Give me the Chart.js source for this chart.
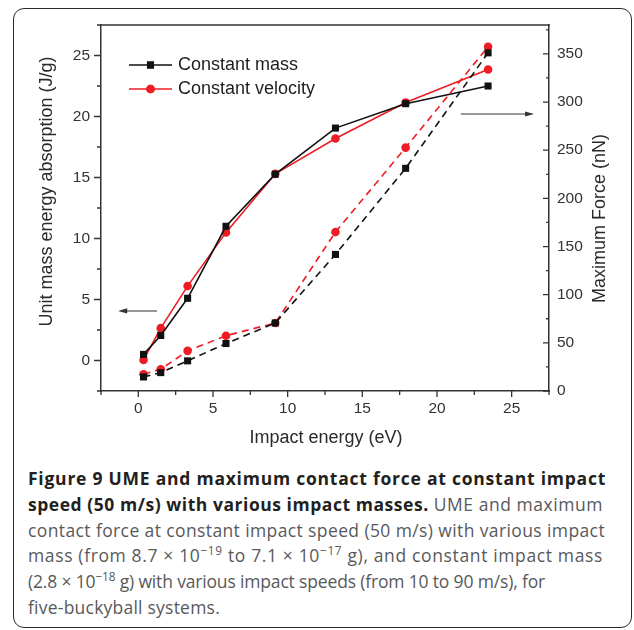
<!DOCTYPE html>
<html>
<head>
<meta charset="utf-8">
<script src="https://cdn.jsdelivr.net/npm/chart.js@4.4.1/dist/chart.umd.min.js"></script>
<style>
    html, body { margin: 0; padding: 0; background: #fff; }
    body { width: 634px; height: 630px; position: relative; overflow: hidden; }
    #frame {
        position: absolute; left: 13px; top: 8px; width: 617px; height: 618px;
        border: 1.5px solid #2b2b2b; border-radius: 11px;
    }
    #chart { position: absolute; left: 0; top: 0; }
    .cap {
        position: absolute; left: 28px; top: 466px;
        font-family: 'Open Sans', Lato, sans-serif; font-size: 17.5px; line-height: 25.8px;
        color: #58595b; white-space: nowrap;
    }
    .cap span { display: inline-block; }
    .cap b { color: #231f20; font-weight: 700; }
    .cap sup { font-size: 0.68em; line-height: 0; vertical-align: 0.6em; }
</style>
</head>
<body>
<div id="frame"></div>
<canvas id="chart" width="634" height="455"></canvas>
<div class="cap">
    <div><span><b>Figure 9 UME and maximum contact force at constant impact</b></span></div>
    <div><span><b>speed (50 m/s) with various impact masses.</b> UME and maximum</span></div>
    <div><span>contact force at constant impact speed (50 m/s) with various impact</span></div>
    <div><span>mass (from 8.7 × 10<sup>−19</sup> to 7.1 × 10<sup>−17</sup> g), and constant impact mass</span></div>
    <div><span>(2.8 × 10<sup>−18</sup> g) with various impact speeds (from 10 to 90 m/s), for</span></div>
    <div><span>five-buckyball systems.</span></div>
</div>
<script>
// ============================================
// DATA
// ============================================

const impactEnergy = [0.35, 1.5, 3.3, 5.87, 9.17, 13.2, 17.9, 23.42];

// unit mass energy absorption (J/g) - left axis
const umeConstMass = [0.5, 2.05, 5.1, 11.0, 15.27, 19.05, 21.05, 22.5];
const umeConstVel  = [0.05, 2.65, 6.1, 10.5, 15.3, 18.2, 21.15, 23.85];

// maximum force (nN) - right axis
const forceConstMass = [14.6, 19.1, 31.3, 49.3, 70.6, 141.8, 231.2, 351.1];
const forceConstVel  = [17.4, 22.6, 41.7, 57.4, 70.6, 165, 252.7, 357.4];

const xTicks  = [0, 5, 10, 15, 20, 25];
const yTicks  = [0, 5, 10, 15, 20, 25];
const y1Ticks = [0, 50, 100, 150, 200, 250, 300, 350];

const seriesNames = ['Constant mass', 'Constant velocity'];
const xTitle = 'Impact energy (eV)';
const yTitle = 'Unit mass energy absorption (J/g)';
const y1Title = 'Maximum Force (nN)';

// arrows pointing at the axis each curve pair belongs to (data units)
const arrowNotes = [
    { axis: 'y',  from: [1.25, 4.06], to: [-1.35, 4.06] },
    { axis: 'y1', from: [21.6, 287.6], to: [26.5, 287.6] }
];

// right edge each caption line reaches in the figure
const captionEnds = [606, 603, 605, 603, 545, 220];

const BLACK = '#111111';
const RED = '#ee1c24';
const AXIS = '#333333';
const FONT = "'Liberation Sans', Arial, sans-serif";

function pairs(xs, ys) {
    return xs.map((x, i) => ({ x: x, y: ys[i] }));
}

function useTicks(values) {
    return scale => {
        scale.ticks = values.map(v => ({ value: v }));
    };
}

// stretch caption lines a little so they wrap like the original
document.querySelectorAll('.cap span').forEach((span, i) => {
    const w = span.getBoundingClientRect().width;
    const n = span.textContent.length;
    const ls = (captionEnds[i] - 28 - w) / n;
    span.style.letterSpacing = Math.max(-1.2, Math.min(1.2, ls)).toFixed(3) + 'px';
});

// ============================================
// PLUGINS
// ============================================

const axisMarks = {
    id: 'axisMarks',
    afterDraw(chart) {
        const { ctx, chartArea: a, scales } = chart;
        ctx.save();
        ctx.strokeStyle = AXIS;
        ctx.lineWidth = 1.5;

        ctx.beginPath();
        ctx.moveTo(a.left - 0.75, a.top);
        ctx.lineTo(a.right + 0.75, a.top);
        ctx.stroke();

        const each = (scale, step, fn) => {
            for (let v = Math.ceil(scale.min / step) * step; v <= scale.max + 1e-9; v += step) {
                const major = Math.abs(v % (step * 2)) < 1e-9;
                fn(scale.getPixelForValue(v), major);
            }
        };

        ctx.lineWidth = 1.3;
        ctx.beginPath();
        each(scales.x, 2.5, (px, major) => {
            ctx.moveTo(px, a.bottom);
            ctx.lineTo(px, a.bottom + (major ? 6 : 4));
        });
        each(scales.y, 2.5, (py, major) => {
            ctx.moveTo(a.left, py);
            ctx.lineTo(a.left - (major ? 7 : 4), py);
        });
        each(scales.y1, 25, (py, major) => {
            ctx.moveTo(a.right, py);
            ctx.lineTo(a.right - (major ? 6 : 3), py);
        });
        ctx.stroke();
        ctx.restore();
    }
};

const titlesAndLegend = {
    id: 'titlesAndLegend',
    afterDraw(chart) {
        const { ctx, chartArea: a, scales } = chart;
        ctx.save();

        // axis titles
        ctx.fillStyle = '#2a2a2a';
        ctx.font = '18px ' + FONT;
        ctx.textAlign = 'center';
        ctx.textBaseline = 'middle';
        ctx.fillText(xTitle, (a.left + a.right) / 2 + 1, a.bottom + 47);

        ctx.save();
        ctx.translate(47, 191.5);
        ctx.rotate(-Math.PI / 2);
        ctx.fillText(yTitle, 0, 0);
        ctx.restore();

        ctx.save();
        ctx.translate(600, 218.5);
        ctx.rotate(-Math.PI / 2);
        ctx.fillText(y1Title, 0, 0);
        ctx.restore();

        // legend: line + marker, then name
        const items = [
            { color: BLACK, style: 'rect', radius: 5 },
            { color: RED, style: 'circle', radius: 4.3 }
        ];
        ctx.textAlign = 'left';
        items.forEach((it, i) => {
            const y = a.top + 40 + i * 24;
            const x0 = a.left + 28, x1 = a.left + 71;
            ctx.strokeStyle = it.color;
            ctx.lineWidth = 1.6;
            ctx.beginPath();
            ctx.moveTo(x0, y);
            ctx.lineTo(x1, y);
            ctx.stroke();
            ctx.fillStyle = it.color;
            Chart.helpers.drawPoint(ctx, { pointStyle: it.style, radius: it.radius, borderWidth: 0 }, (x0 + x1) / 2, y);
            ctx.fill();
            ctx.fillStyle = '#1e1e1e';
            ctx.fillText(seriesNames[i], a.left + 77, y);
        });

        // arrows
        ctx.strokeStyle = '#333';
        ctx.fillStyle = '#333';
        ctx.lineWidth = 1.1;
        arrowNotes.forEach(n => {
            const ys = scales[n.axis];
            const fx = scales.x.getPixelForValue(n.from[0]);
            const fy = ys.getPixelForValue(n.from[1]);
            const tx = scales.x.getPixelForValue(n.to[0]);
            const ty = ys.getPixelForValue(n.to[1]);
            const dir = Math.sign(tx - fx);
            ctx.beginPath();
            ctx.moveTo(fx, fy);
            ctx.lineTo(tx - dir * 6, ty);
            ctx.stroke();
            ctx.beginPath();
            ctx.moveTo(tx, ty);
            ctx.lineTo(tx - dir * 9, ty - 2.6);
            ctx.lineTo(tx - dir * 9, ty + 2.6);
            ctx.closePath();
            ctx.fill();
        });

        ctx.restore();
    }
};

// ============================================
// CHART
// ============================================

function lineSet(label, ys, axis, color, style, radius, dashed) {
    return {
        label: label,
        data: pairs(impactEnergy, ys),
        yAxisID: axis,
        borderColor: color,
        backgroundColor: color,
        borderWidth: 1.6,
        borderDash: dashed ? [7, 5] : [],
        pointStyle: style,
        pointRadius: radius,
        pointBorderWidth: 0,
        pointBackgroundColor: color,
        tension: 0
    };
}

const tickFont = { family: FONT, size: 15.5 };

new Chart(document.getElementById('chart'), {
    type: 'line',
    data: {
        datasets: [
            lineSet(seriesNames[0] + ' force', forceConstMass, 'y1', BLACK, 'rect', 5, true),
            lineSet(seriesNames[1] + ' force', forceConstVel, 'y1', RED, 'circle', 4.3, true),
            lineSet(seriesNames[0], umeConstMass, 'y', BLACK, 'rect', 5, false),
            lineSet(seriesNames[1], umeConstVel, 'y', RED, 'circle', 4.3, false)
        ]
    },
    options: {
        responsive: false,
        animation: false,
        devicePixelRatio: 1,
        layout: { padding: { top: 25, left: 0, right: 0, bottom: 0 } },
        plugins: {
            legend: { display: false },
            tooltip: { enabled: false }
        },
        scales: {
            x: {
                type: 'linear',
                position: 'bottom',
                min: -2.5,
                max: 27.5,
                afterBuildTicks: useTicks(xTicks),
                afterFit: s => { s.height = 64; },
                ticks: { color: '#333', font: tickFont, padding: 8, maxRotation: 0, autoSkip: false },
                grid: { display: false, drawTicks: false },
                border: { display: true, color: AXIS, width: 1.5 }
            },
            y: {
                type: 'linear',
                position: 'left',
                min: -2.5,
                max: 27.5,
                afterBuildTicks: useTicks(yTicks),
                afterFit: s => { s.width = 101; },
                ticks: { color: '#333', font: tickFont, padding: 11, autoSkip: false },
                grid: { display: false, drawTicks: false },
                border: { display: true, color: AXIS, width: 1.5 }
            },
            y1: {
                type: 'linear',
                position: 'right',
                min: 0,
                max: 380,
                afterBuildTicks: useTicks(y1Ticks),
                afterFit: s => { s.width = 85; },
                ticks: { color: '#333', font: tickFont, padding: 8, autoSkip: false },
                grid: { display: false, drawTicks: false },
                border: { display: true, color: AXIS, width: 1.5 }
            }
        }
    },
    plugins: [axisMarks, titlesAndLegend]
});
</script>
</body>
</html>
